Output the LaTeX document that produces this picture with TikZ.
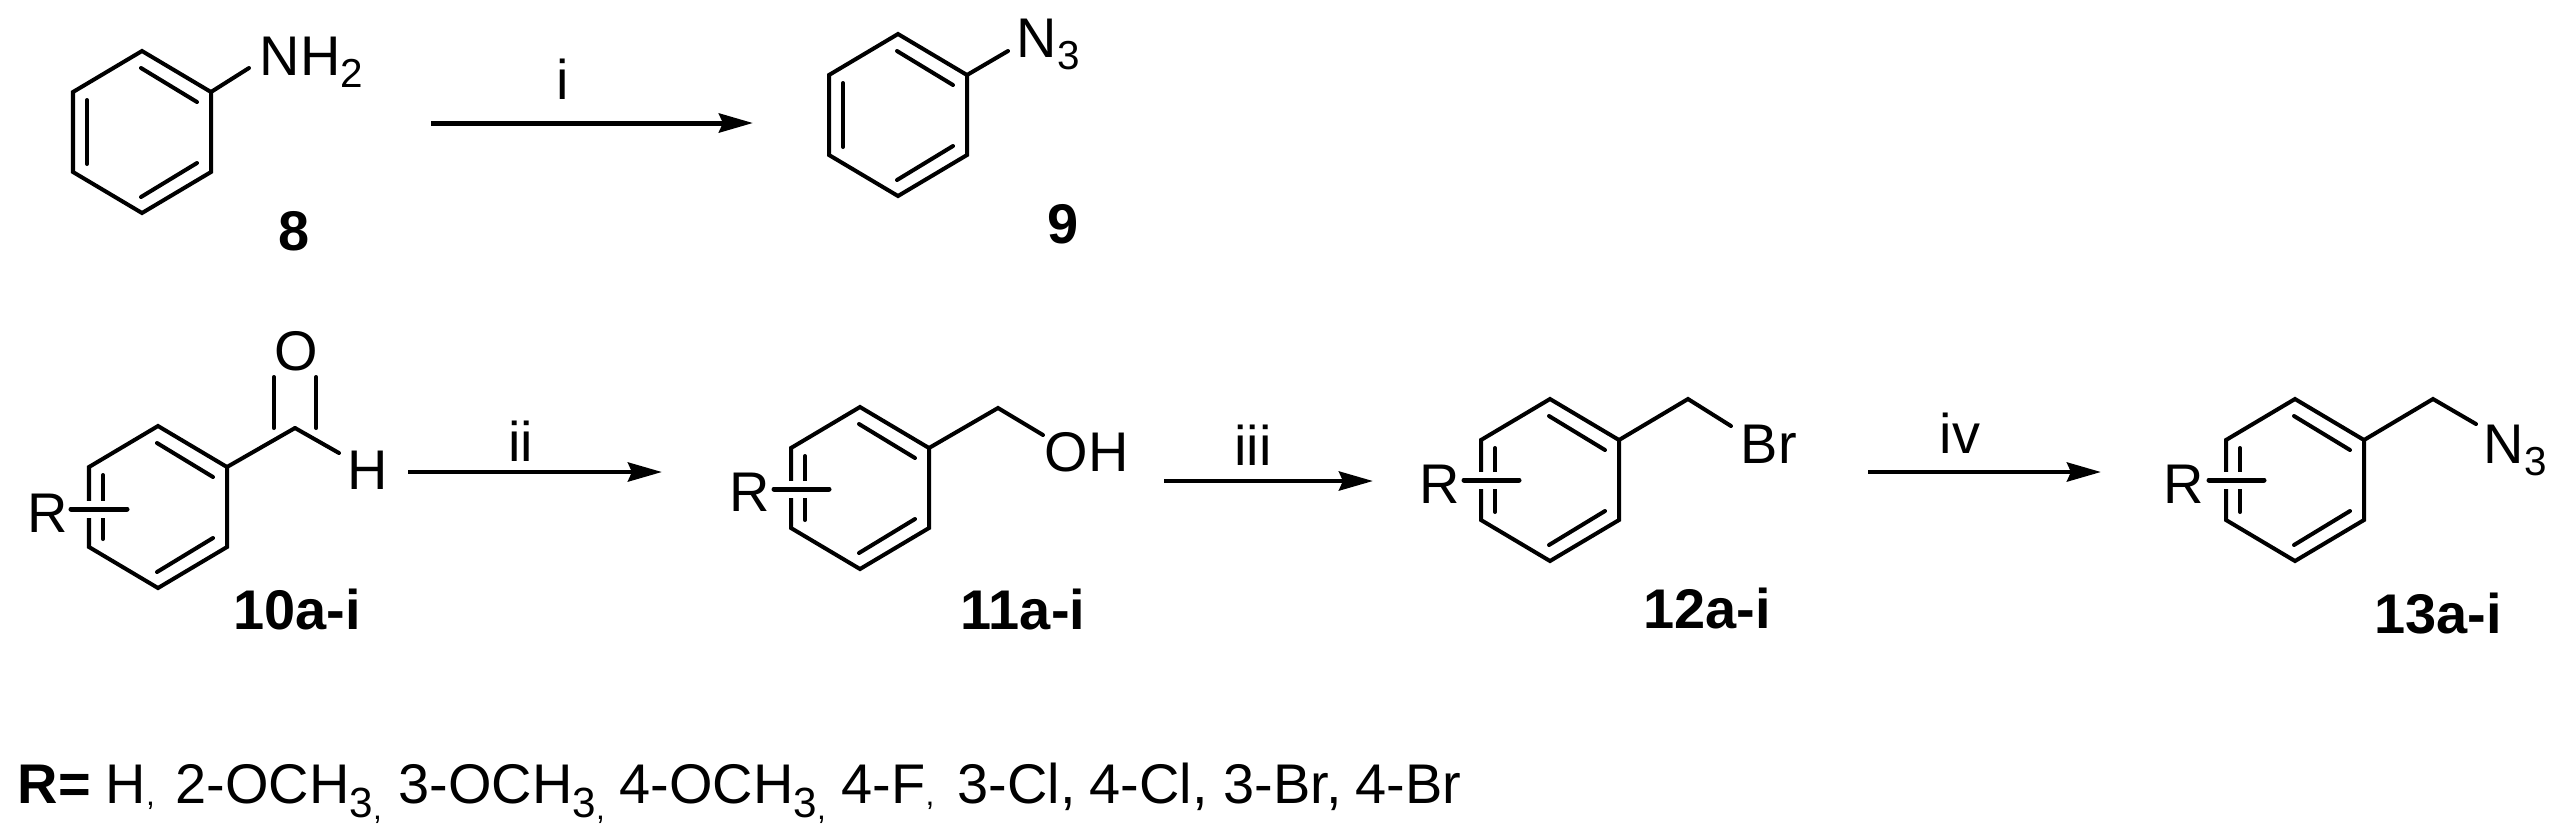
\documentclass[tikz,border=0pt]{standalone}
\usepackage{fontspec}
\setmainfont{Liberation Sans}
\usetikzlibrary{arrows.meta}
\newcommand{\subsc}[1]{\raisebox{-0.12cm}{\fontsize{11.5}{11.5}\selectfont #1}}
\newcommand{\subsl}[1]{\raisebox{-0.14cm}{\fontsize{12}{12}\selectfont #1}}
\newcommand{\minic}{\raisebox{-0.02cm}{\fontsize{9}{9}\selectfont ,}}
\newcommand{\minil}{\raisebox{-0.16cm}{\fontsize{9}{9}\selectfont ,}}
\tikzset{
  bond/.style={line width=0.04cm,line cap=round,line join=miter},
  rbond/.style={line width=0.05cm,line cap=round},
  halo/.style={line width=0.17cm,white},
  react/.style={line width=0.045cm,-{Stealth[length=0.34cm,width=0.19cm,inset=0.04cm]}},
  atom/.style={inner sep=0pt,anchor=base west,font=\fontsize{15.9}{16}\selectfont},
  lab/.style={inner sep=0pt,anchor=base,font=\fontsize{15.9}{16}\selectfont\bfseries},
  cond/.style={inner sep=0pt,anchor=base,font=\fontsize{15.9}{16}\selectfont}
}
% cycle aromatique : nom, x, y
\newcommand{\phring}[3]{
  \begin{scope}[shift={(#2,#3)}]
    \coordinate (#1t) at (0,-81);
    \coordinate (#1ur) at (69,-40);
    \coordinate (#1lr) at (69,40);
    \coordinate (#1b) at (0,81);
    \coordinate (#1ll) at (-69,40);
    \coordinate (#1ul) at (-69,-40);
    \draw[bond] (#1t)--(#1ur)--(#1lr)--(#1b)--(#1ll)--(#1ul)--cycle;
    \draw[bond] (-1,-64)--(55,-30);
    \draw[bond] (55,31)--(-1,65);
    \draw[bond] (-55,-32)--(-55,32);
  \end{scope}
}
\begin{document}
\begin{tikzpicture}[x=0.01cm,y=-0.01cm]
  \useasboundingbox (0,0) rectangle (2559,838);

  % 8 -> 9
  \phring{a}{142}{132}
  \node[atom] (nhtwo) at (259,75) {NH\subsc{2}};
  \coordinate (nhend) at (249,68);
  \draw[bond] (aur)--(nhend);
  \node[lab] (l8) at (294,250) {8};

  \coordinate (ia) at (431,123);
  \coordinate (ib) at (753,123);
  \draw[react,line width=0.05cm] (ia)--(ib);
  \node[cond] (ci) at (563,99) {i};

  \phring{b}{898}{115}
  \node[atom] (nthreea) at (1016,57) {N\subsc{3}};
  \coordinate (naend) at (1008,51);
  \draw[bond] (bur)--(naend);
  \node[lab] (l9) at (1063,243) {9};

  % 10
  \phring{c}{158}{507}
  \coordinate (cho) at (295,428);
  \draw[bond] (cur)--(cho);
  \node[atom] (oxy) at (274,370) {O};
  \draw[bond] ([xshift=-6]cho)--++(0,-51);
  \draw[bond] ([xshift=6]cho)--++(0,-51);
  \node[atom] (hyd) at (347,489) {H};
  \coordinate (hend) at (339,453);
  \draw[bond] (cho)--(hend);
  \draw[halo] (85,509)--(110,509);
  \draw[rbond] (71,509)--(127,509);
  \node[atom] (rc) at (27,532) {R};
  \node[lab] (l10) at (297,629) {10a-i};

  \coordinate (iia) at (408,472);
  \coordinate (iib) at (662,472);
  \draw[react] (iia)--(iib);
  \node[cond] (cii) at (521,461) {ii};

  % 11
  \phring{d}{860}{488}
  \coordinate (dch) at (998,408);
  \coordinate (ohend) at (1043,435);
  \draw[bond] (dur)--(dch)--(ohend);
  \node[atom] (oh) at (1044,471) {OH};
  \draw[halo] (778,489)--(812,489);
  \draw[rbond] (774,489)--(829,489);
  \node[atom] (rd) at (729,511) {R};
  \node[lab] (l11) at (1023,629) {11a-i};

  \coordinate (iiia) at (1164,481);
  \coordinate (iiib) at (1373,481);
  \draw[react] (iiia)--(iiib);
  \node[cond] (ciii) at (1253,465) {iii};

  % 12
  \phring{e}{1550}{480}
  \coordinate (ech) at (1688,399);
  \coordinate (brend) at (1731,426);
  \draw[bond] (eur)--(ech)--(brend);
  \node[atom] (br) at (1740,463) {Br};
  \draw[halo] (1470,480)--(1504,480);
  \draw[rbond] (1464,480)--(1519,480);
  \node[atom] (re) at (1419,503) {R};
  \node[lab] (l12) at (1707,628) {12a-i};

  \coordinate (iva) at (1868,472);
  \coordinate (ivb) at (2101,472);
  \draw[react] (iva)--(ivb);
  \node[cond] (civ) at (1960,453) {iv};

  % 13
  \phring{f}{2295}{480}
  \coordinate (fch) at (2433,399);
  \coordinate (nbend) at (2476,424);
  \draw[bond] (fur)--(fch)--(nbend);
  \node[atom] (nthreeb) at (2483,463) {N\subsc{3}};
  \draw[halo] (2215,480)--(2249,480);
  \draw[rbond] (2209,480)--(2264,480);
  \node[atom] (rf) at (2163,503) {R};
  \node[lab] (l13) at (2438,633) {13a-i};

  % liste des R
  \node[atom] (rlist) at (17,803) {\textbf{R=}};
  \foreach \rx/\rtxt in {105/{H\minic},175/{2-OCH\subsl{3}\minil},398/{3-OCH\subsl{3}\minil},619/{4-OCH\subsl{3}\minil},841/{4-F\minic},957/{3-Cl,},1089/{4-Cl,},1223/{3-Br,},1355/{4-Br}}
    \node[atom] (rl\rx) at (\rx,803) {\rtxt};
\end{tikzpicture}
\end{document}
